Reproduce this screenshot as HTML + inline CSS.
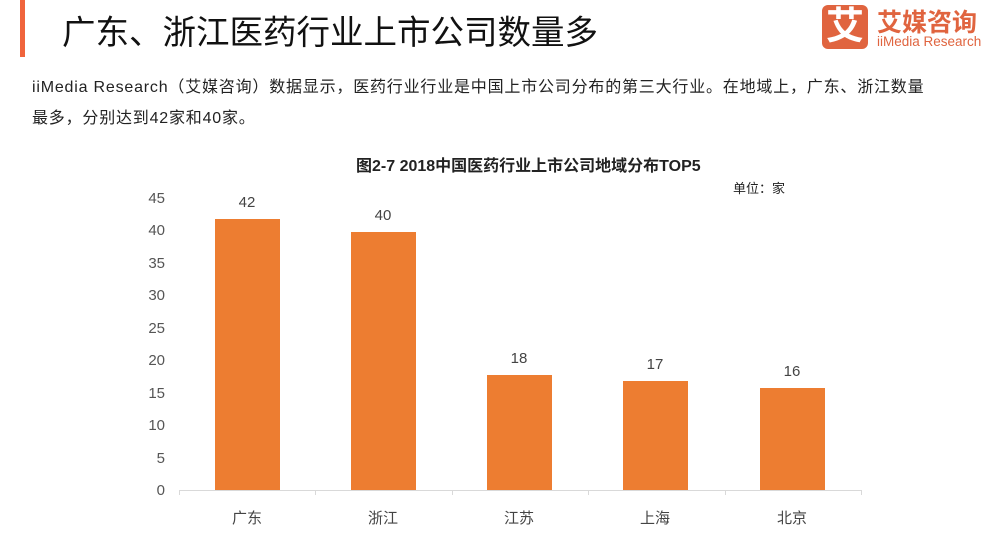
<!DOCTYPE html>
<html><head><meta charset="utf-8"><style>
body{margin:0;width:1000px;height:540px;background:#fff;position:relative;overflow:hidden;font-family:"Liberation Sans","Noto Sans CJK SC",sans-serif}
.a{position:absolute;white-space:nowrap}
</style></head><body>
<div class="a" style="left:20px;top:0;width:5px;height:57px;background:#f0643c"></div>
<div class="a" style="left:62px;top:5px;font-size:33.5px;color:#111">广东、浙江医药行业上市公司数量多</div>
<div class="a" style="left:822px;top:5px;width:46px;height:44px;background:#e0643f;border-radius:6px;color:#fff;font-size:38px;line-height:44px;text-align:center;font-weight:bold">艾</div>
<div class="a" style="left:877px;top:3px;font-size:25px;color:#e0643f;font-weight:bold;letter-spacing:0px">艾媒咨询</div>
<div class="a" style="left:877px;top:34px;font-size:13.5px;color:#e0643f">iiMedia Research</div>
<div class="a" style="left:32px;top:72px;font-size:16px;color:#222;line-height:31px;letter-spacing:0.8px">iiMedia Research（艾媒咨询）数据显示，医药行业行业是中国上市公司分布的第三大行业。在地域上，广东、浙江数量<br>最多，分别达到42家和40家。</div>
<div class="a" style="left:356px;top:152px;font-size:16px;font-weight:bold;color:#222">图2-7 2018中国医药行业上市公司地域分布TOP5</div>
<div class="a" style="left:733px;top:178px;font-size:13px;color:#222">单位：家</div>
<svg class="a" style="left:0;top:0" width="1000" height="540">
<g font-family="Liberation Sans,Noto Sans CJK SC,sans-serif" font-size="15" fill="#555" text-anchor="end">
<text x="165" y="495">0</text><text x="165" y="463">5</text><text x="165" y="430">10</text><text x="165" y="398">15</text><text x="165" y="365">20</text><text x="165" y="333">25</text><text x="165" y="300">30</text><text x="165" y="268">35</text><text x="165" y="235">40</text><text x="165" y="203">45</text>
</g>
<line x1="179" y1="490.5" x2="862" y2="490.5" stroke="#d9d9d9"/>
<g stroke="#d9d9d9"><line x1="179.5" y1="490" x2="179.5" y2="495"/><line x1="315.5" y1="490" x2="315.5" y2="495"/><line x1="452.5" y1="490" x2="452.5" y2="495"/><line x1="588.5" y1="490" x2="588.5" y2="495"/><line x1="725.5" y1="490" x2="725.5" y2="495"/><line x1="861.5" y1="490" x2="861.5" y2="495"/></g>
<g fill="#ed7d31">
<rect x="215" y="219" width="65" height="271"/><rect x="351" y="232" width="65" height="258"/><rect x="487" y="375" width="65" height="115"/><rect x="623" y="381" width="65" height="109"/><rect x="760" y="388" width="65" height="102"/>
</g>
<g font-family="Liberation Sans,Noto Sans CJK SC,sans-serif" font-size="15" fill="#444" text-anchor="middle">
<text x="247" y="207">42</text><text x="383" y="220">40</text><text x="519" y="363">18</text><text x="655" y="369">17</text><text x="792" y="376">16</text>
<text x="247" y="523">广东</text><text x="383" y="523">浙江</text><text x="519" y="523">江苏</text><text x="655" y="523">上海</text><text x="792" y="523">北京</text>
</g>
</svg>
</body></html>
